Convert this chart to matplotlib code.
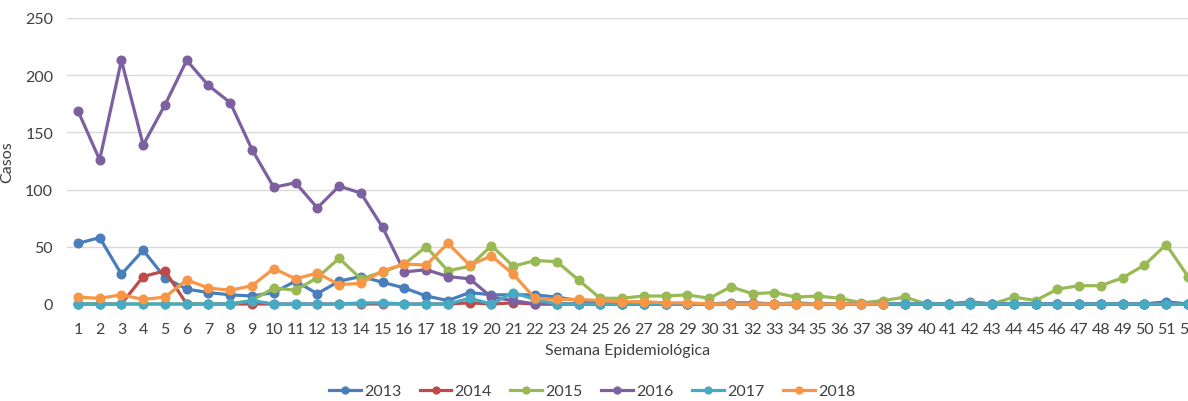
import matplotlib
matplotlib.use("Agg")
import matplotlib.pyplot as plt

weeks = list(range(1, 53))

casos_2013 = [53, 58, 26, 47, 23, 13, 10, 8, 7, 10, 20, 9, 20, 24, 19, 14, 7, 3, 10, 8,
              8, 8, 6, 3, 1, 0, 0, 0, 0, 0, 1, 1, 0, 1, 0, 0, 0, 0, 0, 0,
              0, 2, 0, 0, 0, 0, 0, 0, 0, 0, 2, 0]
casos_2014 = [0, 0, 0, 24, 29, 0, 0, 0, 0, 0, 0, 0, 0, 0, 0, 0, 0, 0, 1, 0,
              1, 0, 0, 0, 0, 0, 0, 0, 0, 0, 0, 0, 0, 0, 0, 0, 0, 0, 0, 0,
              0, 0, 0, 0, 0, 0, 0, 0, 0, 0, 0, 0]
casos_2015 = [0, 0, 0, 0, 0, 0, 0, 0, 3, 14, 12, 23, 40, 22, 28, 35, 50, 29, 33, 51,
              33, 38, 37, 21, 5, 5, 7, 7, 8, 5, 15, 9, 10, 6, 7, 5, 1, 3, 6, 0,
              0, 1, 0, 6, 3, 13, 16, 16, 23, 34, 52, 24]
casos_2016 = [169, 126, 213, 139, 174, 213, 191, 176, 135, 102, 106, 84, 103, 97, 67, 28, 30, 24, 22, 6,
              3, 0, 0, 0, 0, 0, 0, 0, 0, 0, 0, 0, 0, 0, 0, 0, 0, 0, 0, 0,
              0, 0, 0, 0, 0, 0, 0, 0, 0, 0, 0, 0]
casos_2017 = [0, 0, 0, 0, 0, 0, 0, 0, 3, 0, 0, 0, 0, 1, 1, 0, 0, 0, 5, 0,
              10, 4, 0, 0, 0, 0, 0, 0, 0, 0, 0, 0, 0, 0, 0, 0, 0, 0, 0, 0,
              0, 0, 0, 0, 0, 0, 0, 0, 0, 0, 0, 0]
casos_2018 = [6, 5, 8, 4, 6, 21, 14, 12, 16, 31, 22, 27, 17, 18, 29, 35, 34, 53, 34, 42,
              26, 5, 4, 4, 3, 2, 2, 1, 1, 0, 0, 0, 0, 0, 0, 0, 0, 0]

series = [
    ("2013", casos_2013, "#4A7EBB"),
    ("2014", casos_2014, "#BE4B48"),
    ("2015", casos_2015, "#98B954"),
    ("2016", casos_2016, "#7D60A0"),
    ("2017", casos_2017, "#46AAC5"),
    ("2018", casos_2018, "#F79646"),
]

plt.rcParams["font.family"] = ["Lato", "DejaVu Sans"]
text_color = "#404040"
fs = 11.5

fig = plt.figure(figsize=(11.88, 4.02), dpi=100)
ax = fig.add_axes([67 / 1188, 97 / 402, 1121 / 1188, 286 / 402])

for label, vals, color in series:
    ax.plot(weeks[:len(vals)], vals, color=color, lw=2.3, marker="o", ms=6.2,
            label=label, clip_on=False, zorder=3)

ax.set_xlim(0.5, 52.0)
ax.set_ylim(0, 250)
ax.set_yticks(range(0, 251, 50))
ax.set_xticks(weeks)
ax.grid(axis="y", color="#D9D9D9", lw=1.0)
ax.set_axisbelow(True)
for s in ax.spines.values():
    s.set_visible(False)
ax.tick_params(length=0, labelsize=fs, labelcolor=text_color)
ax.tick_params(axis="y", pad=10)
ax.tick_params(axis="x", pad=13)

ax.set_ylabel("Casos", fontsize=fs, color=text_color)
ax.yaxis.set_label_coords(-0.047, 0.5)
ax.set_xlabel("Semana Epidemiológica", fontsize=fs, color=text_color, labelpad=5)

fig.legend(loc="center", bbox_to_anchor=(592 / 1188, 1 - 392 / 402), ncol=6,
           frameon=False, fontsize=fs, handlelength=2.0, columnspacing=1.15,
           handletextpad=0.2, labelcolor=text_color, markerscale=0.8)

fig.savefig("out.png", dpi=100)
